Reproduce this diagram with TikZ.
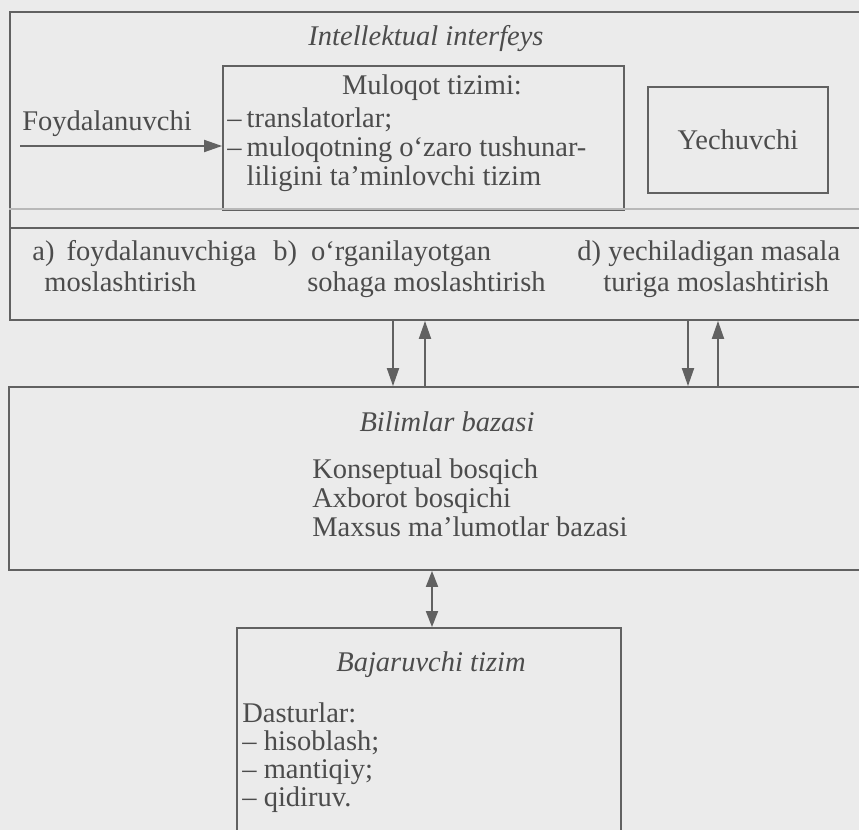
\documentclass[tikz,border=0pt]{standalone}
\usepackage{fontspec}
\setmainfont{Liberation Serif}
\usetikzlibrary{arrows.meta,positioning}
\definecolor{paper}{gray}{0.92}
\definecolor{ink}{gray}{0.30}
\definecolor{rule}{gray}{0.38}

\begin{document}
\begin{tikzpicture}[
  x=0.5pt, y=-0.5pt,
  every node/.style={font=\fontsize{14.25}{14.5}\selectfont, text=ink},
  frame/.style={draw=rule, line width=0.9pt, inner sep=0pt},
  title/.style={font=\fontsize{14.25}{14.5}\selectfont\itshape, anchor=base},
  txt/.style={align=left, anchor=base west, inner sep=0pt},
  row/.style={txt, font=\fontsize{14.25}{15.5}\selectfont},
  listing/.style={txt, font=\fontsize{14.25}{14}\selectfont},
  arr/.style={-{Triangle[length=9pt,width=6pt]}, draw=rule, line width=0.9pt},
  dbl/.style={{Triangle[length=8pt,width=6pt]}-{Triangle[length=8pt,width=6pt]},
    draw=rule, line width=0.9pt}
]
\fill[paper] (0,0) rectangle (859,830);
\useasboundingbox (0,0) rectangle (859,830);

% Intellektual interfeys (multi-line nodes sit on their last baseline)
\node[frame, minimum width=428pt, minimum height=154pt] (iface) at (438,166) {};
\node[title] (ifacetitle) at (426,46) {Intellektual interfeys};
\node[frame, minimum width=200.5pt, minimum height=72pt] (dialog) at (423.5,138) {};
\node[anchor=base] (dialogtitle) at (432,95) {Muloqot tizimi:};
\node[txt] (dialoglist) at (227,185)
  {\textendash\kern2.5pt translatorlar;\\
   \textendash\kern2.5pt muloqotning o‘zaro tushunar-\\
   \phantom{\textendash\kern2.5pt}liligini ta’minlovchi tizim};
\node[frame, minimum width=90pt, minimum height=53pt] (solver) at (738,140)
  {Yechuvchi};

% User input
\node[txt] (user) at (22,130) {Foydalanuvchi};
\coordinate (userin) at (20,146);
\draw[arr] (userin) -- (userin -| dialog.west);

% Adaptation row
\draw[rule!45, line width=0.6pt] (iface.west |- 0,209) -- (iface.east |- 0,209);
\draw[rule, line width=0.9pt] (iface.west |- 0,228) -- (iface.east |- 0,228);
\node[row] (adaptA) at (32,291)
  {a)\hspace{6pt}foydalanuvchiga\\\hspace{6pt}moslashtirish};
\node[row] (adaptB) at (273,291)
  {b)\hspace{7pt}o‘rganilayotgan\\\hspace{17pt}sohaga moslashtirish};
\node[row] (adaptD) at (577,291)
  {d) yechiladigan masala\\\hspace{13pt}turiga moslashtirish};

% Bilimlar bazasi
\node[frame, minimum width=428.5pt, minimum height=91.5pt] (kbase) at (437.5,478.5) {};
\node[title] (kbasetitle) at (447,431) {Bilimlar bazasi};
\node[txt] (kbaselist) at (312,536)
  {Konseptual bosqich\\Axborot bosqichi\\Maxsus ma’lumotlar bazasi};

% Arrows between interface and knowledge base
\draw[arr] (iface.south -| 393,0) -- (kbase.north -| 393,0);
\draw[arr] (kbase.north -| 425,0) -- (iface.south -| 425,0);
\draw[arr] (iface.south -| 688,0) -- (kbase.north -| 688,0);
\draw[arr] (kbase.north -| 718,0) -- (iface.south -| 718,0);

% Bajaruvchi tizim
\node[frame, minimum width=192pt, minimum height=106pt] (exec) at (429,734) {};
\node[title] (exectitle) at (431,671) {Bajaruvchi tizim};
\node[listing] (execlist) at (242,806)
  {Dasturlar:\\\textendash\ hisoblash;\\\textendash\ mantiqiy;\\\textendash\ qidiruv.};
\draw[dbl] (kbase.south -| 432,0) -- (exec.north -| 432,0);

\end{tikzpicture}
\end{document}
